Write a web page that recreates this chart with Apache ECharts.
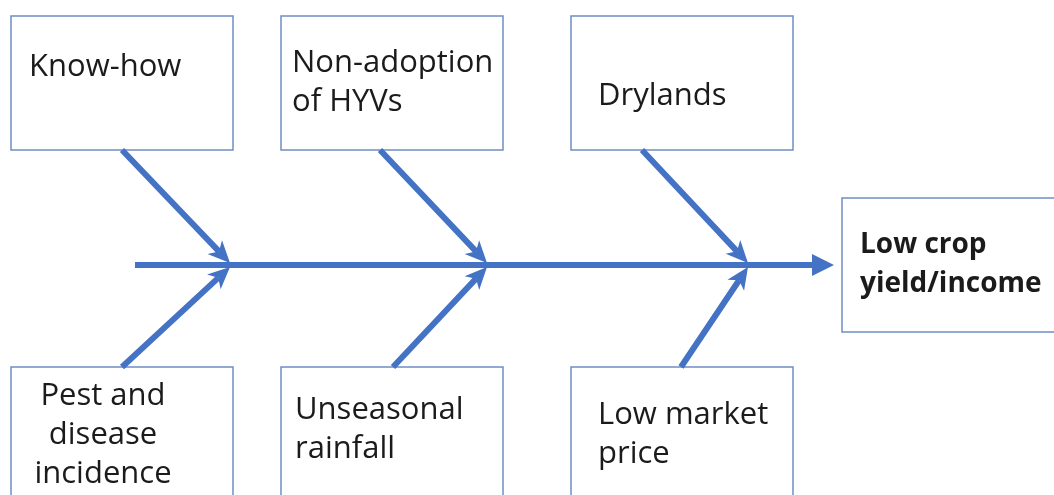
<!DOCTYPE html>
<html>
<head>
<meta charset="utf-8">
<script src="https://cdn.jsdelivr.net/npm/echarts@6/dist/echarts.min.js"></script>
<style>
  html, body { margin: 0; padding: 0; background: #fff; }
  #main { width: 1054px; height: 495px; }
</style>
</head>
<body>
<div id="main"></div>
<script>
// cause labels (top row, then bottom row) and the effect
const topCauses = ['Know-how', 'Non-adoption\nof HYVs', 'Drylands'];
const bottomCauses = ['Pest and\ndisease\nincidence', 'Unseasonal\nrainfall', 'Low market\nprice'];
const effect = 'Low crop\nyield/income';

// layout in page units (x right, y down)
const boxX = [11, 281, 571];
const boxW = 222;
const topBoxY = 16, topBoxH = 134;
const bottomBoxY = 367, bottomBoxH = 140;
const effectBox = [842, 198, 230, 134];
const spineY = 265;
const spineStart = 135, spineEnd = 834;
const joints = [230, 487, 748];
const topTails = [122, 380, 642];
const bottomTails = [122, 393, 681];

// label placement inside each box: [dx, dy of first line center, align]
const topText = [[18, 51, 'left'], [11, 47, 'left'], [27, 80, 'left']];
const bottomText = [[92, 29, 'center'], [14, 43, 'left'], [27, 48, 'left']];

const blue = '#4472C4';
const border = '#6F8FC4';
const font = '"Open Sans", sans-serif';

const myChart = echarts.init(document.getElementById('main'));

const boxes = [];
topCauses.forEach((t, i) => boxes.push([boxX[i], topBoxY, boxW, topBoxH, t, topText[i][0], topText[i][1], topText[i][2], 'normal']));
bottomCauses.forEach((t, i) => boxes.push([boxX[i], bottomBoxY, boxW, bottomBoxH, t, bottomText[i][0], bottomText[i][1], bottomText[i][2], 'normal']));
boxes.push([effectBox[0], effectBox[1], effectBox[2], effectBox[3], effect, 18, 47, 'left', 'bold']);

const arrows = [];
arrows.push([spineStart, spineY, spineEnd, spineY, 1]);
joints.forEach((j, i) => {
  arrows.push([topTails[i], topBoxY + topBoxH, j, spineY - 2, 0]);
  arrows.push([bottomTails[i], bottomBoxY, j, spineY + 2, 0]);
});

function renderBox(params, api) {
  const p = api.coord([api.value(0), api.value(1)]);
  const q = api.coord([api.value(0) + api.value(2), api.value(1) + api.value(3)]);
  const d = boxes[params.dataIndex];
  const bold = d[8] === 'bold';
  return {
    type: 'group',
    children: [
      {
        type: 'rect',
        shape: { x: p[0], y: p[1], width: q[0] - p[0], height: q[1] - p[1] },
        style: { fill: '#fff', stroke: border, lineWidth: 1.5 },
      },
      {
        type: 'text',
        x: p[0] + d[5],
        y: p[1] + d[6] - 19.5,
        style: {
          text: d[4],
          font: d[8] + ' ' + (bold ? 28 : 31) + 'px ' + font,
          fill: '#1b1b1b',
          align: d[7],
          verticalAlign: 'top',
          lineHeight: 39,
        },
      },
    ],
  };
}

function renderArrow(params, api) {
  const a = api.coord([api.value(0), api.value(1)]);
  const b = api.coord([api.value(2), api.value(3)]);
  const main = api.value(4) === 1;
  const dx = b[0] - a[0], dy = b[1] - a[1];
  const len = Math.sqrt(dx * dx + dy * dy);
  const ux = dx / len, uy = dy / len;
  const hl = 22, hw = main ? 11 : 10, notch = main ? 0 : 6;
  const base = [b[0] - ux * hl, b[1] - uy * hl];
  const nx = -uy, ny = ux;
  const head = [
    b,
    [base[0] + nx * hw, base[1] + ny * hw],
    [base[0] + ux * notch, base[1] + uy * notch],
    [base[0] - nx * hw, base[1] - ny * hw],
  ];
  return {
    type: 'group',
    children: [
      {
        type: 'line',
        shape: { x1: a[0], y1: a[1], x2: base[0] + ux * notch, y2: base[1] + uy * notch },
        style: { stroke: blue, lineWidth: 6 },
      },
      {
        type: 'polygon',
        shape: { points: head },
        style: { fill: blue },
      },
    ],
  };
}

const option = {
  animation: false,
  grid: { left: 0, right: 0, top: 0, bottom: 0 },
  xAxis: { type: 'value', min: 0, max: 1054, show: false },
  yAxis: { type: 'value', min: 0, max: 495, inverse: true, show: false },
  series: [
    {
      type: 'custom',
      renderItem: renderArrow,
      data: arrows,
      z: 2,
      clip: false,
    },
    {
      type: 'custom',
      renderItem: renderBox,
      data: boxes,
      z: 1,
      clip: false,
    },
  ],
};

myChart.setOption(option);
</script>
</body>
</html>
